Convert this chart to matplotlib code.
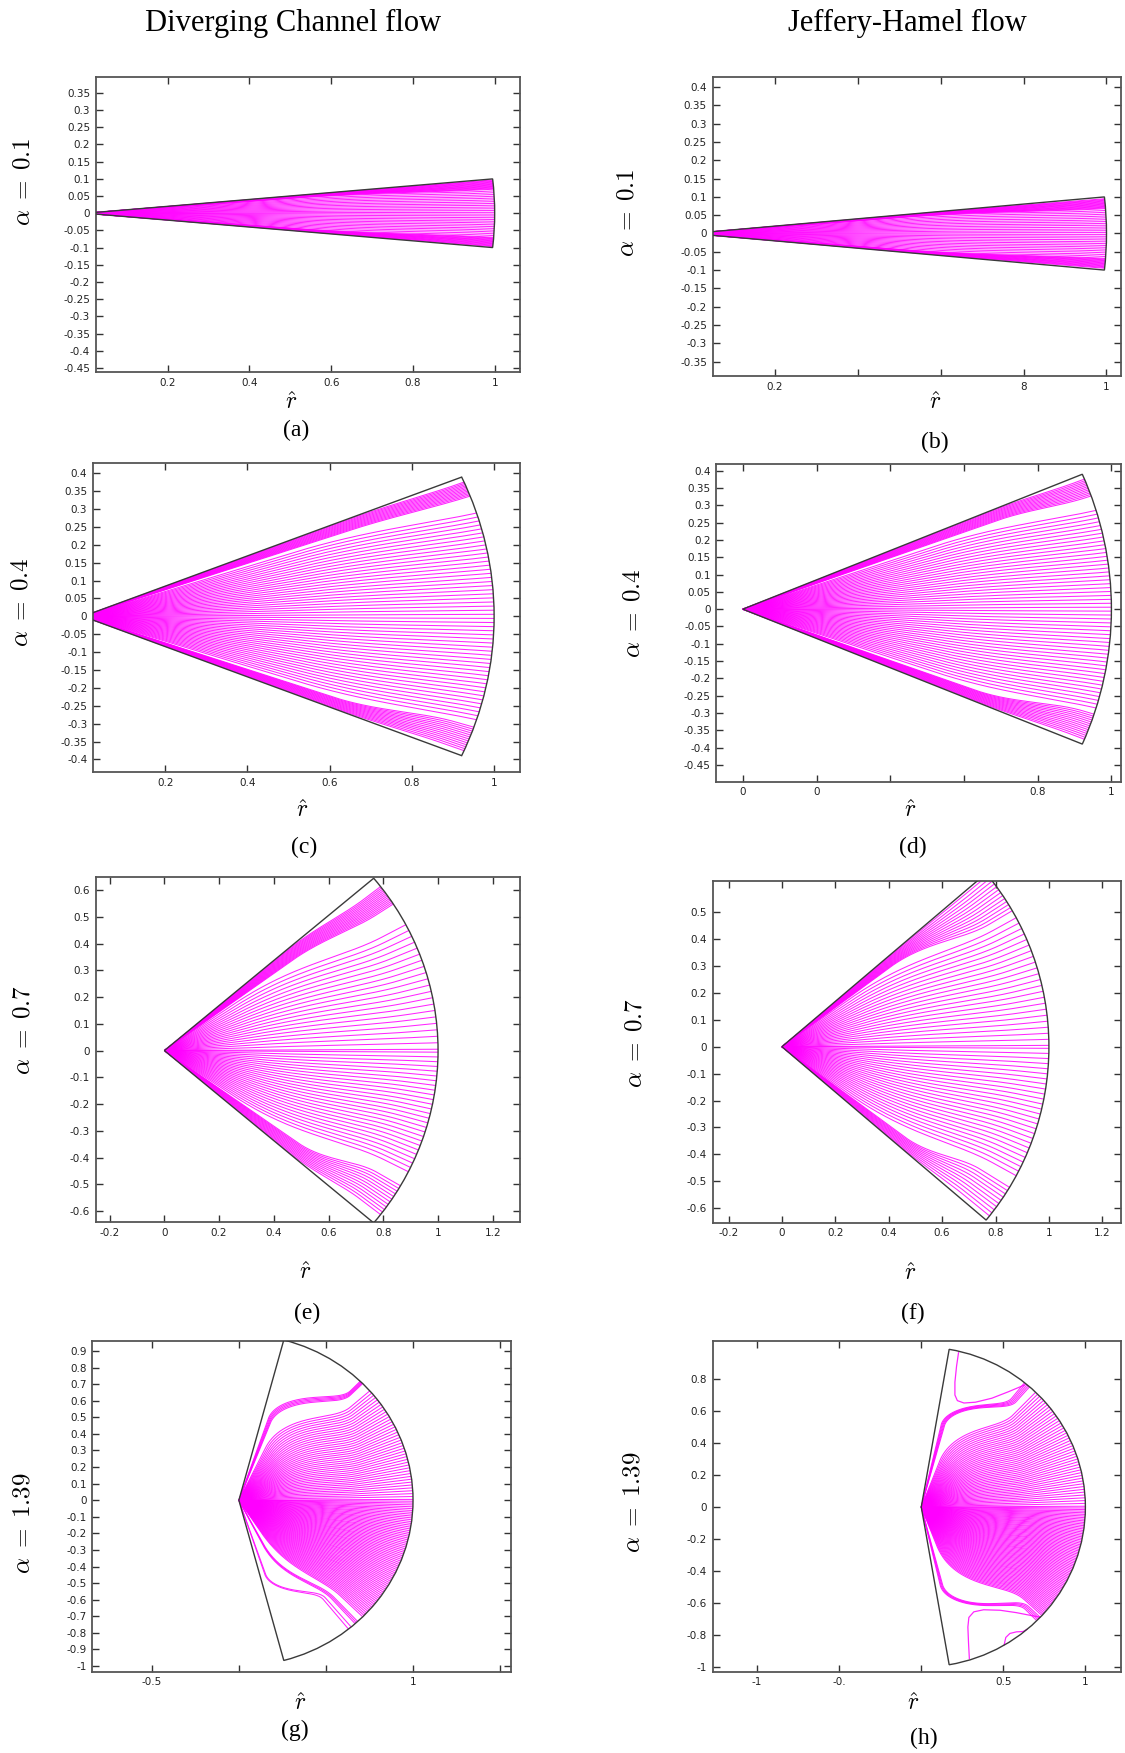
import numpy as np
import matplotlib.pyplot as plt
from matplotlib.patches import Wedge

plt.rcParams['mathtext.fontset'] = 'cm'

# ----------------------------
# Data
# ----------------------------
# wall half-angle (rad) of each wedge, as drawn
alphas = [0.1, 0.1, 0.4, 0.4, 0.7, 0.7, 1.31, 1.40]
alpha_text = ['0.1', '0.1', '0.4', '0.4', '0.7', '0.7', '1.39', '1.39']
letters = ['(a)', '(b)', '(c)', '(d)', '(e)', '(f)', '(g)', '(h)']

# streamline groups: count, outlet angle range, inlet angle range,
# bend radius range, bend width
a_n = [14, 26, 14]
a_out = [(0.097, 0.070), (0.065, -0.065), (-0.070, -0.097)]
a_in = [(0.099, 0.088), (0.086, -0.086), (-0.088, -0.099)]
a_rp = [(0.75, 0.75), (0.75, 0.75), (0.75, 0.75)]
a_w = [0.5, 0.5, 0.5]

b_n = [14, 26, 14]
b_out = [(0.095, 0.068), (0.063, -0.063), (-0.068, -0.095)]
b_in = [(0.099, 0.088), (0.086, -0.086), (-0.088, -0.099)]
b_rp = [(0.75, 0.75), (0.75, 0.75), (0.75, 0.75)]
b_w = [0.5, 0.5, 0.5]

c_n = [12, 52, 13]
c_out = [(0.385, 0.343), (0.292, -0.292), (-0.315, -0.385)]
c_in = [(0.397, 0.355), (0.335, -0.335), (-0.355, -0.397)]
c_rp = [(0.84, 0.84), (0.80, 0.80), (0.80, 0.80)]
c_w = [0.3, 0.5, 0.3]

d_n = [12, 52, 14]
d_out = [(0.385, 0.333), (0.288, -0.288), (-0.308, -0.385)]
d_in = [(0.397, 0.355), (0.335, -0.335), (-0.355, -0.397)]
d_rp = [(0.86, 0.86), (0.80, 0.80), (0.82, 0.82)]
d_w = [0.25, 0.5, 0.3]

e_n = [14, 21, 27, 12]
e_out = [(0.66, 0.58), (0.49, 0.005), (-0.006, -0.47), (-0.53, -0.66)]
e_in = [(0.695, 0.625), (0.60, 0.005), (-0.006, -0.59), (-0.615, -0.695)]
e_rp = [(0.75, 0.75), (0.6, 0.6), (0.6, 0.6), (0.75, 0.75)]
e_w = [0.35, 0.6, 0.6, 0.3]

f_n = [13, 23, 27, 10]
f_out = [(0.69, 0.53), (0.50, 0.005), (-0.006, -0.50), (-0.55, -0.68)]
f_in = [(0.695, 0.63), (0.61, 0.005), (-0.006, -0.61), (-0.63, -0.695)]
f_rp = [(0.7, 0.7), (0.6, 0.6), (0.6, 0.6), (0.72, 0.72)]
f_w = [0.4, 0.6, 0.6, 0.3]

g_n = [5, 42, 70, 3, 2]
g_out = [(0.80, 0.78), (0.72, 0.005), (-0.006, -0.78), (-0.82, -0.84), (-0.87, -0.89)]
g_in = [(1.24, 1.20), (1.12, 0.005), (-0.006, -0.99), (-1.08, -1.10), (-1.24, -1.25)]
g_rp = [(0.72, 0.70), (0.60, 0.40), (0.40, 0.52), (0.55, 0.55), (0.62, 0.62)]
g_w = [0.4, 0.5, 0.6, 0.5, 0.3]

h_n = [5, 46, 74, 4]
h_out = [(0.89, 0.85), (0.80, 0.005), (-0.006, -0.745), (-0.76, -0.79)]
h_in = [(1.34, 1.30), (1.20, 0.005), (-0.006, -1.20), (-1.31, -1.34)]
h_rp = [(0.70, 0.70), (0.55, 0.35), (0.40, 0.55), (0.70, 0.70)]
h_w = [0.35, 0.5, 0.6, 0.4]

# recirculation loops in (h)
h_loop1_x = [0.227, 0.215, 0.205, 0.205, 0.22, 0.26, 0.33, 0.43, 0.53, 0.628]
h_loop1_y = [0.964, 0.88, 0.78, 0.70, 0.665, 0.650, 0.655, 0.68, 0.72, 0.762]
h_loop2_x = [0.293, 0.288, 0.284, 0.29, 0.32, 0.38, 0.48, 0.58, 0.68, 0.725]
h_loop2_y = [-0.946, -0.85, -0.75, -0.69, -0.655, -0.642, -0.645, -0.66, -0.68, -0.688]
h_loop3_x = [0.505, 0.515, 0.54, 0.58, 0.62, 0.645]
h_loop3_y = [-0.862, -0.815, -0.79, -0.78, -0.778, -0.764]

groups = [
    (a_n, a_out, a_in, a_rp, a_w),
    (b_n, b_out, b_in, b_rp, b_w),
    (c_n, c_out, c_in, c_rp, c_w),
    (d_n, d_out, d_in, d_rp, d_w),
    (e_n, e_out, e_in, e_rp, e_w),
    (f_n, f_out, f_in, f_rp, f_w),
    (g_n, g_out, g_in, g_rp, g_w),
    (h_n, h_out, h_in, h_rp, h_w),
]

# axis ranges and ticks
xlims = [(0.024, 1.061), (0.05, 1.035), (0.024, 1.062), (-0.0716, 1.026),
         (-0.251, 1.298), (-0.26, 1.27), (-0.843, 1.565), (-1.272, 1.217)]
ylims = [(-0.4625, 0.397), (-0.389, 0.428), (-0.436, 0.428), (-0.498, 0.419),
         (-0.642, 0.65), (-0.654, 0.617), (-1.034, 0.96), (-1.029, 1.0375)]
xticks = [[0.2, 0.4, 0.6, 0.8, 1.0], [0.2, 0.4, 0.6, 0.8, 1.0],
          [0.2, 0.4, 0.6, 0.8, 1.0], [0, 0.2, 0.4, 0.6, 0.8, 1.0],
          [-0.2, 0, 0.2, 0.4, 0.6, 0.8, 1.0, 1.2], [-0.2, 0, 0.2, 0.4, 0.6, 0.8, 1.0, 1.2],
          [-0.5, 0, 0.5, 1.0, 1.5], [-1, -0.5, 0, 0.5, 1]]
xticklabels = [['0.2', '0.4', '0.6', '0.8', '1'], ['0.2', '', '', '8', '1'],
               ['0.2', '0.4', '0.6', '0.8', '1'], ['0', '0', '', '', '0.8', '1'],
               ['-0.2', '0', '0.2', '0.4', '0.6', '0.8', '1', '1.2'],
               ['-0.2', '0', '0.2', '0.4', '0.6', '0.8', '1', '1.2'],
               ['-0.5', '', '', '1', ''], ['-1', '-0.', '', '0.5', '1']]
yticks = [np.arange(-0.45, 0.351, 0.05), np.arange(-0.35, 0.401, 0.05),
          np.arange(-0.40, 0.401, 0.05), np.arange(-0.45, 0.401, 0.05),
          np.arange(-0.6, 0.601, 0.1), np.arange(-0.6, 0.501, 0.1),
          np.arange(-1.0, 0.901, 0.1), np.arange(-1.0, 0.801, 0.2)]

# panel boxes in pixels (x0, y0, x1, y1)
boxes = [(95.7, 76.7, 519.6, 372.3), (712.5, 76.7, 1121, 376),
         (92.9, 463.3, 519.6, 772.3), (716.4, 464, 1121, 781.7),
         (95.7, 876.7, 519.6, 1222.3), (712.5, 880.7, 1121, 1222.7),
         (92.1, 1341, 511.4, 1671.7), (712.5, 1341, 1121, 1671.7)]
alpha_pos = [(23, 182), (627, 213), (21, 602), (633, 613),
             (23, 1030), (635, 1043), (23, 1523), (633, 1502)]
rhat_pos = [(291, 402), (935, 402), (302, 810), (910, 810),
            (305, 1272), (910, 1273), (300, 1703), (913, 1703)]
letter_pos = [(296, 430), (935, 442), (304, 847), (913, 847),
              (307, 1313), (913, 1313), (295, 1730), (924, 1738)]

MAGENTA = '#ff00ff'
W, H = 1125, 1753
SERIF = 'Liberation Serif'

fig = plt.figure(figsize=(W / 100, H / 100), dpi=100)


def ftext(x, y, s, **kw):
    fig.text(x / W, 1 - y / H, s, ha='center', va='center', **kw)


def smooth(t):
    t = np.clip(t, 0, 1)
    return t * t * (3 - 2 * t)


def draw_group(ax, n, out_rng, in_rng, rp_rng, w):
    r = np.linspace(0, 1, 160)
    for k in range(n):
        f = k / (n - 1) if n > 1 else 0.0
        th_out = out_rng[0] + (out_rng[1] - out_rng[0]) * f
        th_in = in_rng[0] + (in_rng[1] - in_rng[0]) * f
        rp = rp_rng[0] + (rp_rng[1] - rp_rng[0]) * f
        th = th_in + (th_out - th_in) * smooth((r - rp) / w + 0.5)
        ax.plot(r * np.cos(th), r * np.sin(th), color=MAGENTA, lw=0.75,
                alpha=0.85, solid_capstyle='butt', zorder=2)


for i in range(8):
    x0, y0, x1, y1 = boxes[i]
    ax = fig.add_axes([x0 / W, 1 - y1 / H, (x1 - x0) / W, (y1 - y0) / H])

    n, outs, ins, rps, ws = groups[i]
    for j in range(len(n)):
        draw_group(ax, n[j], outs[j], ins[j], rps[j], ws[j])

    if i == 7:
        for lx, ly in [(h_loop1_x, h_loop1_y), (h_loop2_x, h_loop2_y),
                       (h_loop3_x, h_loop3_y)]:
            ax.plot(lx, ly, color=MAGENTA, lw=0.9, alpha=0.85, zorder=2)

    deg = np.degrees(alphas[i])
    ax.add_patch(Wedge((0, 0), 1.0, -deg, deg, fill=False, ec='#3a3a3a',
                       lw=1.0, zorder=3))

    ax.set_xlim(xlims[i])
    ax.set_ylim(ylims[i])
    ax.set_xticks(xticks[i])
    ax.set_xticklabels(xticklabels[i])
    yt = np.round(yticks[i], 2)
    ax.set_yticks(yt)
    ax.set_yticklabels([f'{v:g}' if abs(v) > 1e-9 else '0' for v in yt])
    ax.tick_params(direction='in', top=True, right=True, length=5, width=1,
                   color='#333333', labelsize=7.5, labelcolor='#222222', pad=4)
    for sp in ax.spines.values():
        sp.set_color('#555555')
        sp.set_linewidth(1.3)

    ax_x, ax_y = alpha_pos[i]
    ftext(ax_x, ax_y, r'$\alpha\;=\;' + alpha_text[i] + r'$',
          rotation=90, fontsize=18)
    rx, ry = rhat_pos[i]
    ftext(rx, ry, r'$\hat{r}$', fontsize=17)
    lx, ly = letter_pos[i]
    ftext(lx, ly, letters[i], fontsize=17, family=SERIF)

ftext(293, 23, 'Diverging Channel flow', fontsize=22, family=SERIF)
ftext(907, 23, 'Jeffery-Hamel flow', fontsize=22, family=SERIF)

fig.savefig('out.png', dpi=100)
